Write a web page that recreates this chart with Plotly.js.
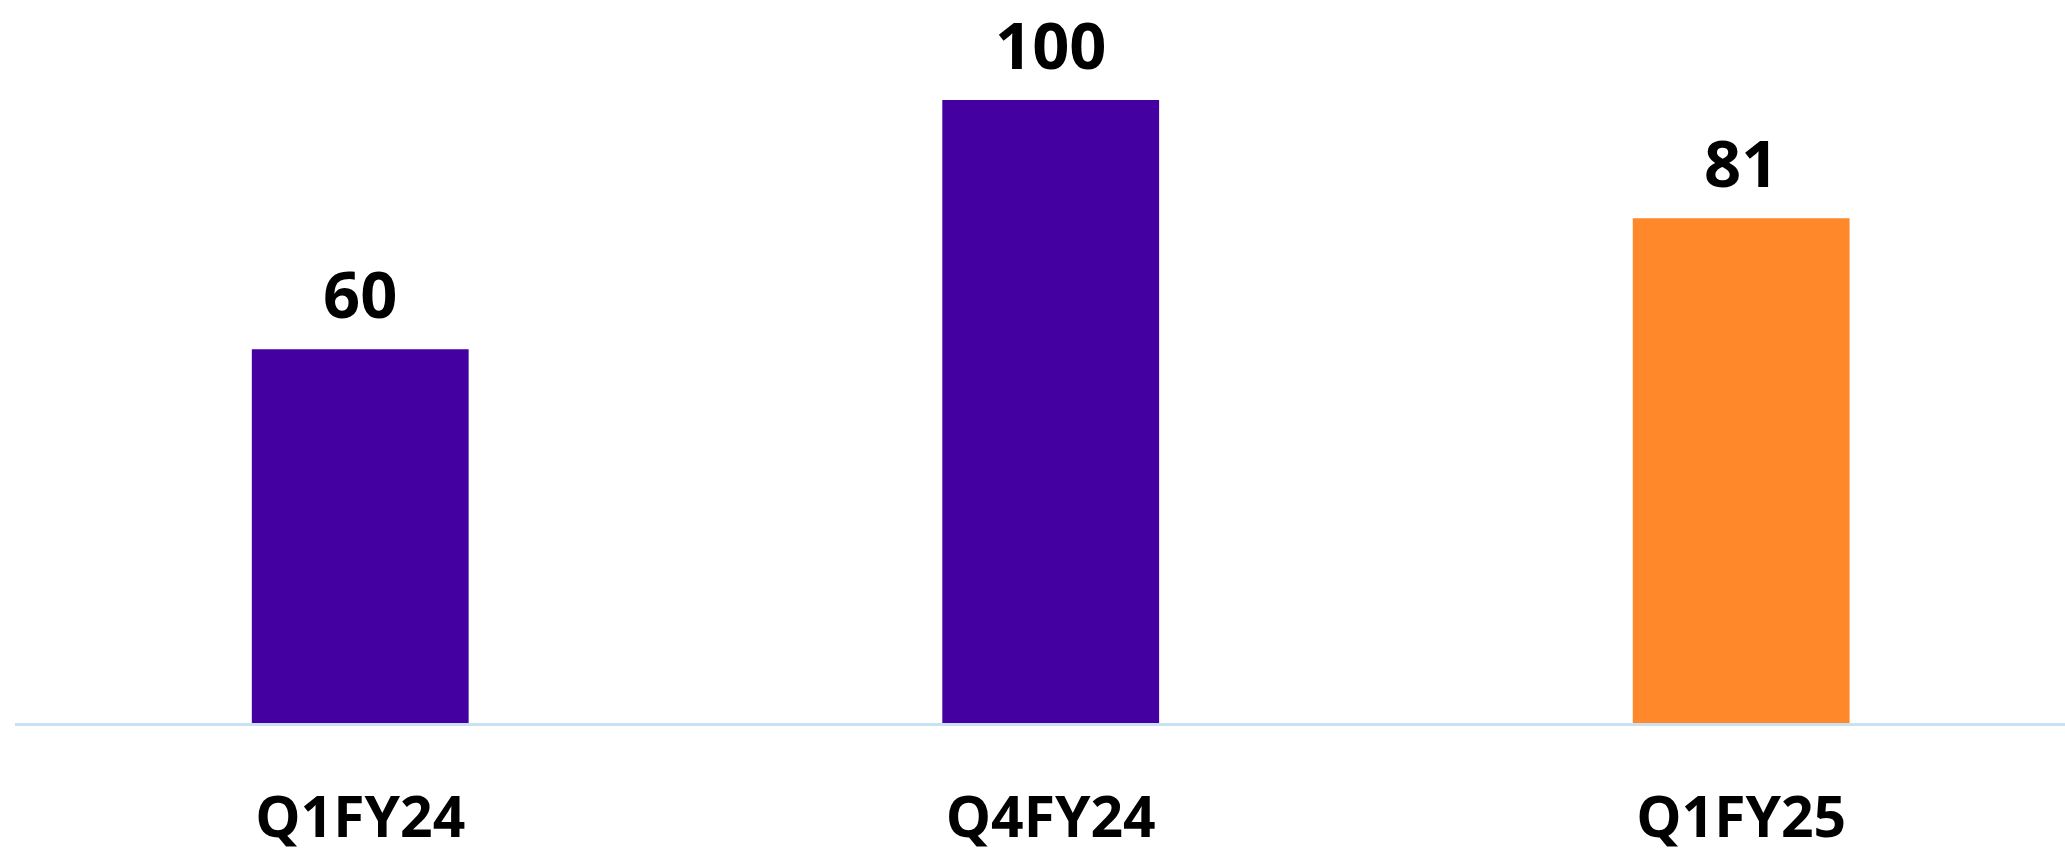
<!DOCTYPE html>
<html>
<head>
<meta charset="utf-8">
<script src="https://cdn.plot.ly/plotly-3.0.1.min.js"></script>
<style>
html,body{margin:0;padding:0;background:#fff;}
#chart{width:2065px;height:853px;}
</style>
</head>
<body>
<div id="chart"></div>
<script>
const categories = ['Q1FY24', 'Q4FY24', 'Q1FY25'];
const values = [60, 100, 81];
const barColors = ['#4400A1', '#4400A1', '#FF882A'];

const trace = {
  type: 'bar',
  x: categories,
  y: values,
  width: 0.314,
  marker: {color: barColors, line: {width: 0}},
  cliponaxis: false,
  hoverinfo: 'skip'
};

const valueLabels = categories.map((c, i) => ({
  x: c,
  y: values[i],
  xref: 'x',
  yref: 'y',
  text: String(values[i]),
  showarrow: false,
  xanchor: 'center',
  yanchor: 'bottom',
  yshift: 10,
  font: {family: 'Open Sans', size: 65, color: '#000000', weight: 700}
}));

const layout = {
  width: 2065,
  height: 853,
  margin: {l: 15, r: 0, t: 0, b: 130},
  paper_bgcolor: '#ffffff',
  plot_bgcolor: '#ffffff',
  showlegend: false,
  annotations: valueLabels,
  xaxis: {
    type: 'category',
    range: [-0.5, 2.469],
    showline: true,
    linecolor: '#C8E1F4',
    linewidth: 3,
    ticks: 'outside',
    ticklen: 43,
    tickcolor: 'rgba(0,0,0,0)',
    tickfont: {family: 'Open Sans', size: 57, color: '#000000', weight: 700},
    showgrid: false,
    zeroline: false,
    fixedrange: true
  },
  yaxis: {
    range: [0, 116.05],
    visible: false,
    showgrid: false,
    zeroline: false,
    fixedrange: true
  }
};

Plotly.newPlot('chart', [trace], layout, {displayModeBar: false, staticPlot: true});
</script>
</body>
</html>
